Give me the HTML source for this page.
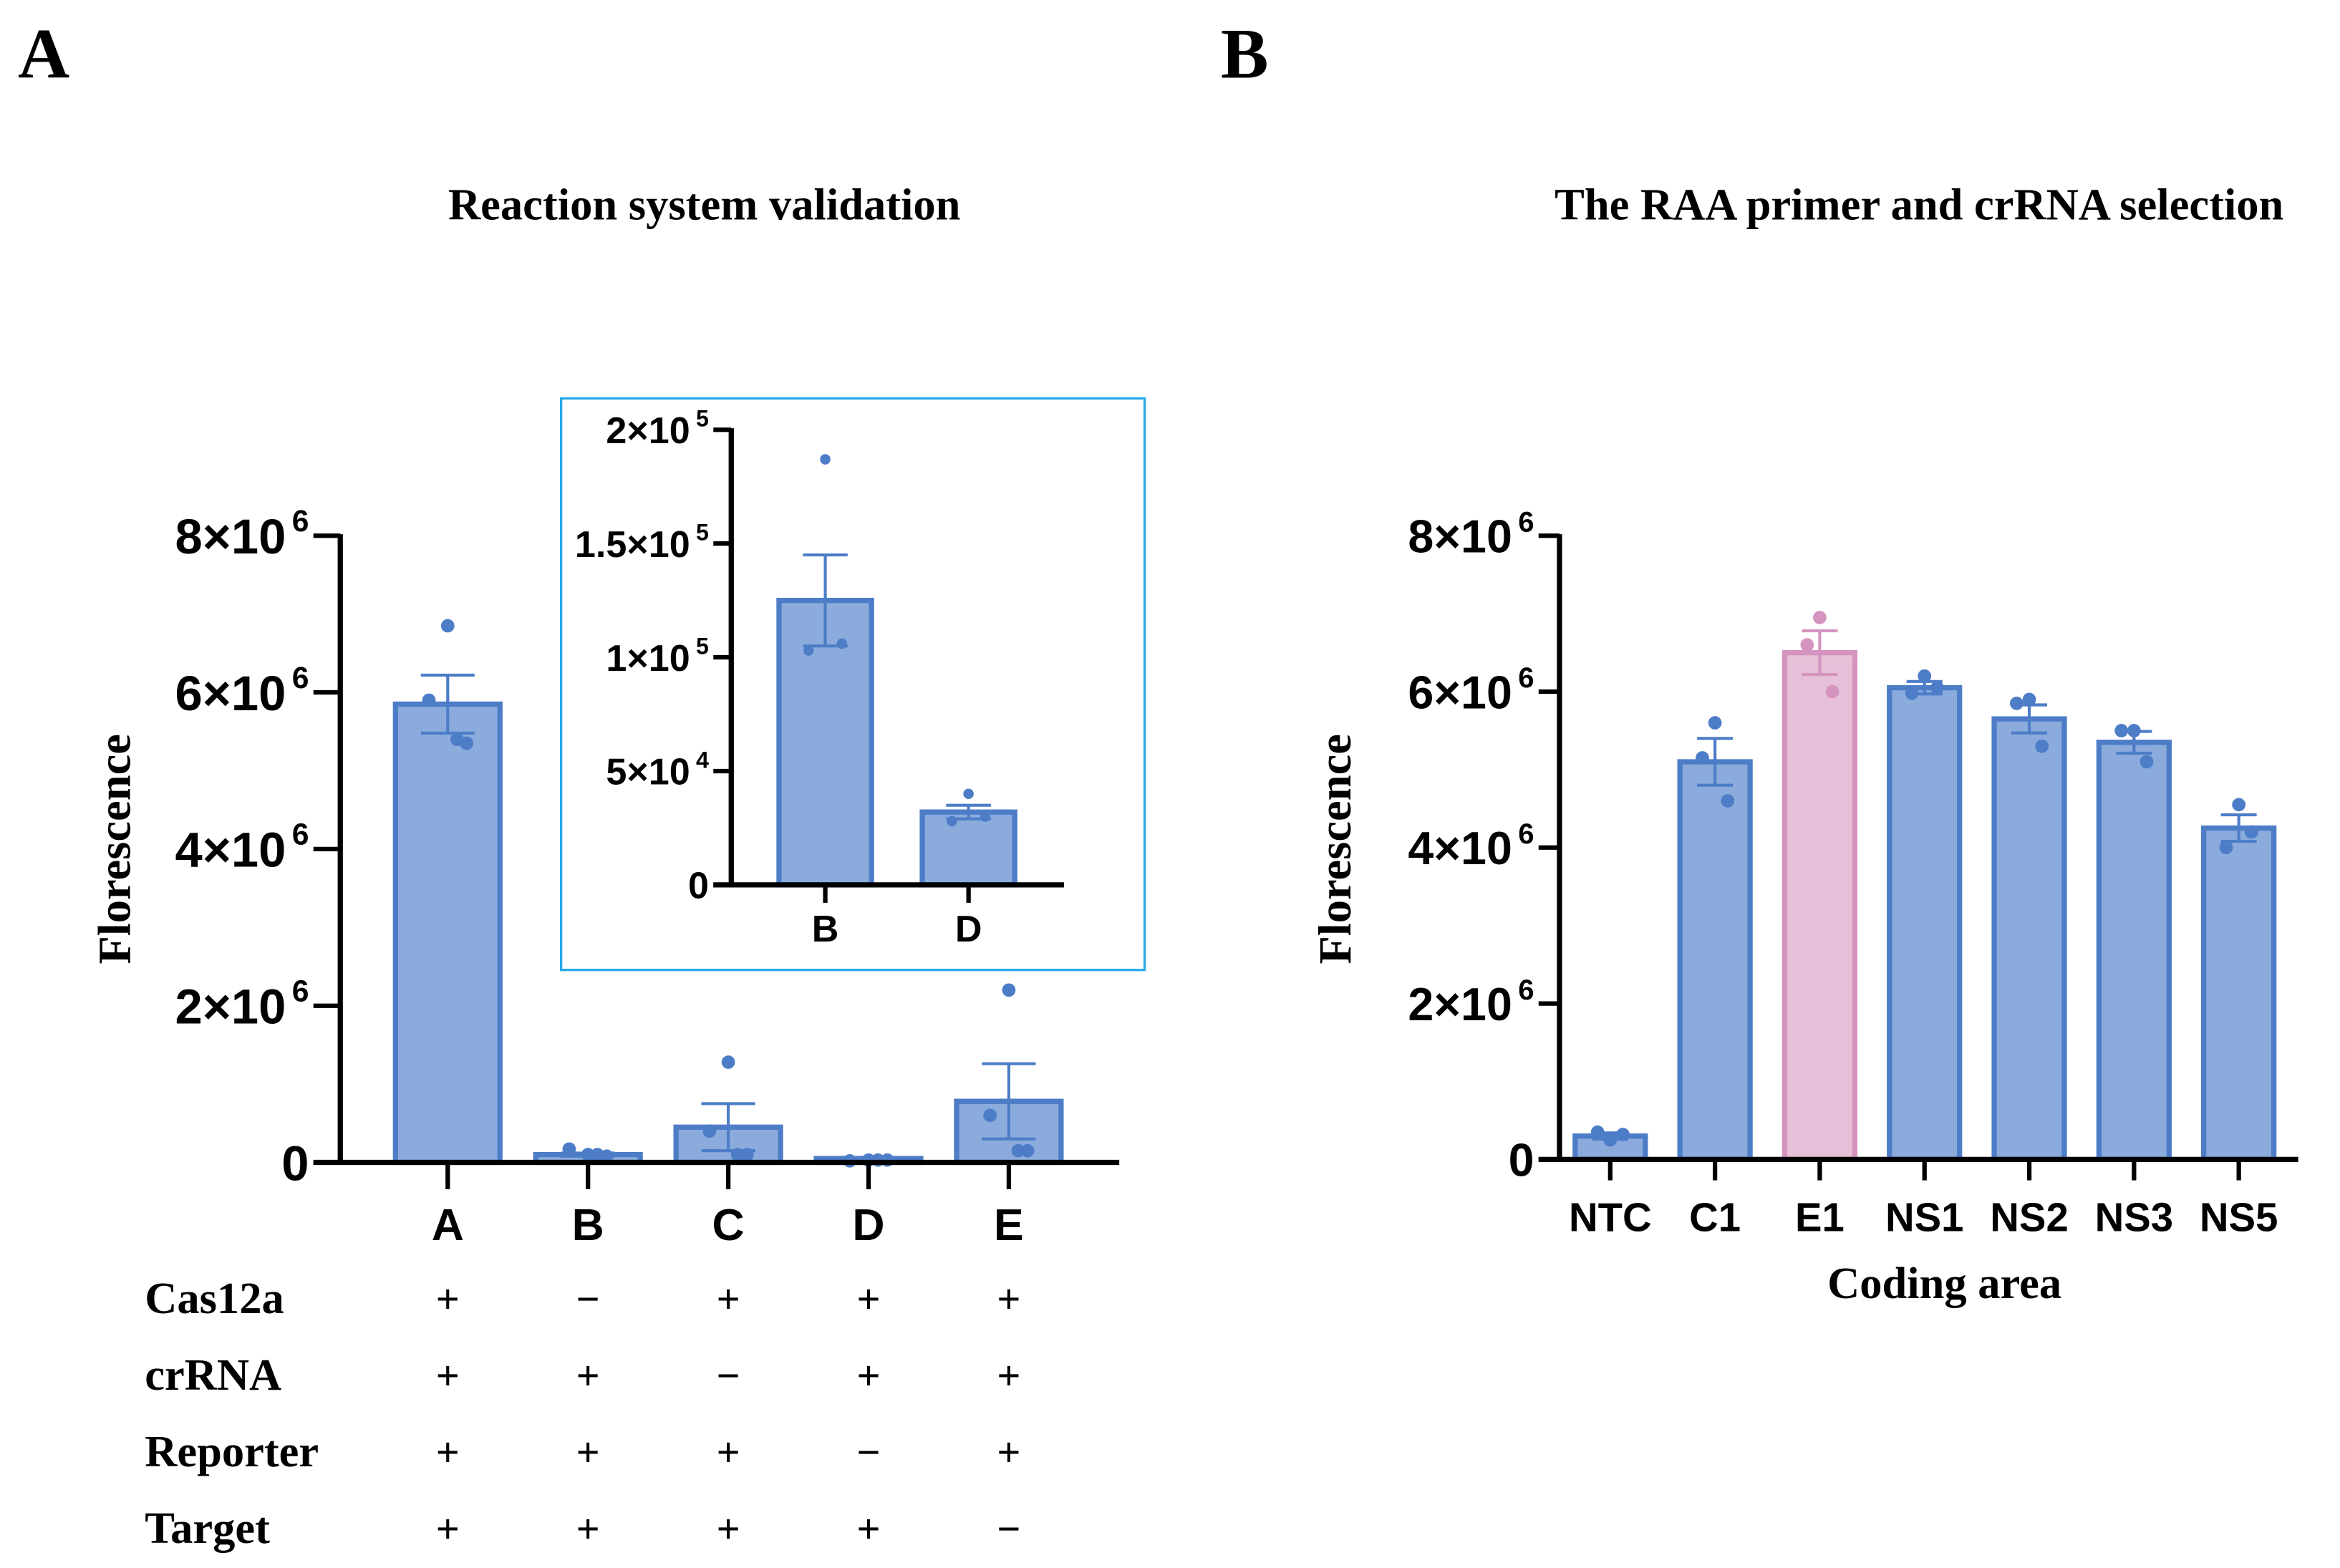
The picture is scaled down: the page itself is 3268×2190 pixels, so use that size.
<!DOCTYPE html>
<html><head><meta charset="utf-8"><style>
html,body{margin:0;padding:0;background:#fff}
svg{display:block}
.tk{font-family:"Liberation Sans",sans-serif;font-weight:bold;fill:#000}
.sr{font-family:"Liberation Serif",serif;font-weight:bold;fill:#000}
</style></head><body>
<svg id="fig" width="3268" height="2190" viewBox="0 0 1568 1050.8" xmlns="http://www.w3.org/2000/svg">
<text class="sr" x="12" y="52" font-size="48">A</text>
<text class="sr" x="818" y="52" font-size="48">B</text>
<text class="sr" x="472" y="147" font-size="30" text-anchor="middle">Reaction system validation</text>
<text class="sr" x="1286" y="147" font-size="30" text-anchor="middle">The RAA primer and crRNA selection</text>
<text class="sr" x="0" y="0" font-size="31" text-anchor="middle" transform="translate(87,569) rotate(-90)">Florescence</text>
<text class="sr" x="0" y="0" font-size="31" text-anchor="middle" transform="translate(905,569) rotate(-90)">Florescence</text>
<text class="sr" x="1303" y="870" font-size="30" text-anchor="middle">Coding area</text>
<rect x="376" y="267" width="391" height="383" fill="none" stroke="#29a9e8" stroke-width="1.6"/>
<g id="gA"></g><g id="gI"></g><g id="gB"></g><g id="gT"></g>
</svg>
<script>
// Chart A
const catsA=["A","B","C","D","E"];
const meanA=[5.85e6,0.1e6,0.45e6,0.05e6,0.78e6];
const semA=[0.37e6,0.02e6,0.3e6,0.01e6,0.48e6];
const ptsA=[[6.85e6,5.9e6,5.35e6,5.4e6],[0.1e6,0.17e6,0.08e6,0.1e6],[1.28e6,0.4e6,0.1e6,0.1e6],[0.03e6,0.02e6,0.03e6,0.03e6],[2.2e6,0.6e6,0.15e6,0.15e6]];
const ticksA=[0,2e6,4e6,6e6,8e6];
const tickLabA=[["0",""],["2×10","6"],["4×10","6"],["6×10","6"],["8×10","6"]];
// Inset
const catsI=["B","D"];
const meanI=[1.25e5,3.2e4];
const semI=[0.2e5,0.3e4];
const ptsI=[[1.87e5,1.03e5,1.06e5],[4.0e4,2.8e4,3.0e4]];
const ticksI=[0,5e4,1e5,1.5e5,2e5];
const tickLabI=[["0",""],["5×10","4"],["1×10","5"],["1.5×10","5"],["2×10","5"]];
// Chart B
const catsB=["NTC","C1","E1","NS1","NS2","NS3","NS5"];
const meanB=[0.3e6,5.1e6,6.5e6,6.05e6,5.65e6,5.35e6,4.25e6];
const semB=[0.04e6,0.3e6,0.28e6,0.08e6,0.18e6,0.14e6,0.17e6];
const ptsB=[[0.25e6,0.35e6,0.32e6],[5.6e6,5.15e6,4.6e6],[6.95e6,6.6e6,6.0e6],[6.2e6,5.98e6,6.05e6],[5.9e6,5.85e6,5.3e6],[5.5e6,5.5e6,5.1e6],[4.55e6,4.0e6,4.2e6]];
const ticksB=[0,2e6,4e6,6e6,8e6];
const tickLabB=tickLabA;
// Table
const rowLabels=["Cas12a","crRNA","Reporter","Target"];
const signs=[["+","−","+","+","+"],["+","+","−","+","+"],["+","+","+","−","+"],["+","+","+","+","−"]];

const NS="http://www.w3.org/2000/svg";
function mk(p,t,a){const e=document.createElementNS(NS,t);for(const k in a)e.setAttribute(k,a[k]);p.appendChild(e);return e;}

function chart(g,o){
  const y=v=>o.y0-(v/o.max)*(o.y0-o.y1);
  const x=i=>o.x0c+i*o.step;
  o.cats.forEach((c,i)=>{
    const col=(o.pink&&o.pink===c)?["#e6c0d8","#d594bf"]:["#8aabdc","#4d7dc7"];
    const b=mk(g,"rect",{x:x(i)-o.bw/2,y:y(o.mean[i]),width:o.bw,height:o.y0-y(o.mean[i]),fill:col[0],stroke:col[1],"stroke-width":3.5});
    
    
    const eb=mk(g,"path",{d:`M${x(i)},${y(o.mean[i]+o.sem[i])}V${y(o.mean[i]-o.sem[i])}M${x(i)-o.cap},${y(o.mean[i]+o.sem[i])}H${x(i)+o.cap}M${x(i)-o.cap},${y(o.mean[i]-o.sem[i])}H${x(i)+o.cap}`,stroke:col[1],"stroke-width":2,fill:"none"});
    
    
    o.pts[i].forEach((v,j)=>{
      const off=[0,-1,1,0.5][j]*o.bw*0.18;
      const p=mk(g,"circle",{cx:x(i)+off,cy:y(v),r:o.r,fill:col[1]});
      
      
    });
    const tk=mk(g,"line",{x1:x(i),x2:x(i),y1:o.y0,y2:o.y0+o.tl,stroke:"#000","stroke-width":3});
    
    
    const lb=mk(g,"text",{x:x(i),y:o.y0+o.labOff,"text-anchor":"middle",class:"tk","font-size":o.fs});
    lb.textContent=c;
    
    
  });
  const ax=mk(g,"path",{d:`M${o.ax},${o.y1-1}V${o.y0}M${o.ax-o.tl},${o.y0}H${o.xEnd}`,stroke:"#000","stroke-width":3.5,fill:"none"});
  
  
  o.ticks.forEach((t,i)=>{
    const l=mk(g,"line",{x1:o.ax-o.tl,x2:o.ax,y1:y(t),y2:y(t),stroke:"#000","stroke-width":3});
    
    
    const tx=mk(g,"text",{x:o.ax-o.tl-3,y:y(t)+o.yfs*0.36,"text-anchor":"end",class:"tk","font-size":o.yfs});
    
    
    const a=document.createElementNS(NS,"tspan");a.textContent=o.tl_[i][0];tx.appendChild(a);
    if(o.tl_[i][1]){const s=document.createElementNS(NS,"tspan");s.setAttribute("dy",-o.yfs*0.45);s.setAttribute("font-size",o.yfs*0.62);s.setAttribute("dx",4);s.textContent=o.tl_[i][1];tx.appendChild(s);}
  });
}
chart(document.getElementById("gA"),{cats:catsA,mean:meanA,sem:semA,pts:ptsA,ticks:ticksA,tl_:tickLabA,max:8e6,y0:779,y1:359,ax:228,xEnd:750,x0c:300,step:94,bw:70,cap:18,r:4.5,tl:18,labOff:52,fs:30,yfs:33});
chart(document.getElementById("gI"),{cats:catsI,mean:meanI,sem:semI,pts:ptsI,ticks:ticksI,tl_:tickLabI,max:2e5,y0:593,y1:288,ax:490,xEnd:713,x0c:553,step:96,bw:62,cap:15,r:3.5,tl:12,labOff:38,fs:25,yfs:25});
chart(document.getElementById("gB"),{cats:catsB,mean:meanB,sem:semB,pts:ptsB,ticks:ticksB,tl_:tickLabB,max:8e6,y0:777,y1:359,ax:1045,xEnd:1540,x0c:1079,step:70.2,bw:47,cap:12,r:4.5,tl:14,labOff:48,fs:27,yfs:31,pink:"E1"});
const gT=document.getElementById("gT");
rowLabels.forEach((r,i)=>{
  const yy=880+i*51.3;
  const t=mk(gT,"text",{x:97,y:yy,class:"sr","font-size":30});
  t.textContent=r;
  
  
  signs[i].forEach((s,j)=>{
    const u=mk(gT,"text",{x:300+j*94,y:yy,"text-anchor":"middle",class:"sr","font-size":28,"font-weight":"normal"});
    u.textContent=s;
    
    
  });
});
</script>
</body></html>
